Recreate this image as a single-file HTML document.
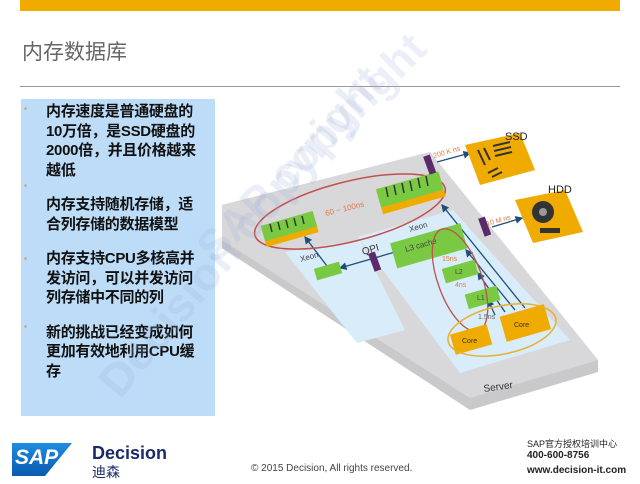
<!DOCTYPE html>
<html><head><meta charset="utf-8"><style>
body{margin:0;width:640px;height:484px;background:#fff;overflow:hidden;position:relative;font-family:"Liberation Sans","Noto Sans CJK SC",sans-serif}
.a{position:absolute}
</style></head><body>
<div class="a" style="left:20px;top:0;width:600px;height:11px;background:#f0ab00"></div>
<div class="a" style="left:22px;top:36px;font-size:21px;color:#666">内存数据库</div>
<div class="a" style="left:20px;top:86px;width:600px;height:1px;background:#999"></div>
<div class="a" style="left:21px;top:99px;width:194px;height:317px;background:#bcdcf8"></div>
<div class="a" style="left:46px;top:102px;font-size:15px;font-weight:bold;line-height:19.5px;color:#111;width:175px;white-space:nowrap;letter-spacing:-0.3px">
<div>内存速度是普通硬盘的<br>10万倍，是SSD硬盘的<br>2000倍，并且价格越来<br>越低</div>
<div style="margin-top:15px">内存支持随机存储，适<br>合列存储的数据模型</div>
<div style="margin-top:15px">内存支持CPU多核高并<br>发访问，可以并发访问<br>列存储中不同的列</div>
<div style="margin-top:15px">新的挑战已经变成如何<br>更加有效地利用CPU缓<br>存</div>
</div>
<div class="a" style="left:24px;top:104px;font-size:8px;color:#c8a040;line-height:10px">▪</div>
<div class="a" style="left:24px;top:181px;font-size:8px;color:#c8a040">▪</div>
<div class="a" style="left:24px;top:254px;font-size:8px;color:#c8a040">▪</div>
<div class="a" style="left:24px;top:322px;font-size:8px;color:#c8a040">▪</div>

<svg class="a" style="left:0;top:0" width="640" height="484" font-family="Liberation Sans,sans-serif">
<defs><marker id="m" markerWidth="6" markerHeight="6" refX="5" refY="3" orient="auto"><path d="M0,0L6,3L0,6z" fill="#1f4e79"/></marker></defs>
<polygon points="222,205 430,152 598,360 598,372 470,410 222,248" fill="#c9c9cb"/>
<polygon points="222,205 430,152 598,360 470,398 222,240" fill="#d8d8da"/>
<polygon points="285,252 360,240 405,330 357,343" fill="#d8ecfa"/>
<polygon points="358,237 453,210 570,340 460,373" fill="#d8ecfa"/>
<g stroke="#1f4e79" stroke-width="1.3" fill="none" marker-end="url(#m)">
<line x1="437" y1="162" x2="470" y2="153"/>
<line x1="492" y1="227" x2="522" y2="218"/>
<line x1="525" y1="308" x2="442" y2="205"/>
<line x1="515" y1="310" x2="466" y2="250"/>
<line x1="505" y1="312" x2="478" y2="273"/>
<line x1="495" y1="315" x2="488" y2="300"/>
<line x1="395" y1="252" x2="340" y2="268"/>
<line x1="330" y1="270" x2="305" y2="237"/>
</g>
<g transform="rotate(-14 348 212)"><ellipse cx="350" cy="212" rx="98" ry="30" fill="none" stroke="#c0504d" stroke-width="1.5"/></g>
<g transform="rotate(-16 290 230)"><rect x="263" y="220" width="54" height="20" fill="#f0ab00"/><rect x="263" y="218" width="54" height="16" fill="#7ac943"/></g>
<g transform="rotate(-16 410 192)"><rect x="378" y="182" width="65" height="24" fill="#f0ab00"/><rect x="378" y="180" width="65" height="19" fill="#7ac943"/></g>
<g stroke="#333" stroke-width="1.5"><line x1="272" y1="232" x2="270" y2="224"/><line x1="280" y1="230" x2="278" y2="222"/><line x1="288" y1="228" x2="286" y2="220"/><line x1="296" y1="226" x2="294" y2="218"/><line x1="304" y1="224" x2="302" y2="216"/>
<line x1="388" y1="197" x2="386" y2="187"/><line x1="396" y1="195" x2="394" y2="185"/><line x1="404" y1="193" x2="402" y2="183"/><line x1="412" y1="191" x2="410" y2="181"/><line x1="420" y1="188" x2="418" y2="178"/><line x1="428" y1="186" x2="426" y2="176"/></g>
<text x="326" y="216" font-size="8" fill="#e07a40" transform="rotate(-14 326 216)">60 ~ 100ns</text>
<g transform="rotate(-16 428 245)"><rect x="392" y="233" width="73" height="26" fill="#7ac943"/></g>
<text x="406" y="252" font-size="8" fill="#444" transform="rotate(-16 406 252)">L3 cache</text>
<text x="410" y="232" font-size="8" fill="#444" transform="rotate(-16 410 232)">Xeon</text>
<text x="301" y="262" font-size="8" fill="#444" transform="rotate(-16 301 262)">Xeon</text>
<text x="363" y="255" font-size="10" fill="#333" transform="rotate(-16 363 255)">QPI</text>
<g transform="rotate(-16 328 271)"><rect x="315" y="265" width="26" height="12" fill="#7ac943"/></g>
<g transform="rotate(-16 460 271)"><rect x="443" y="264" width="34" height="15" fill="#7ac943"/></g>
<g transform="rotate(-16 482 297)"><rect x="466" y="290" width="33" height="15" fill="#7ac943"/></g>
<text x="455" y="274" font-size="7" fill="#444">L2</text><text x="477" y="300" font-size="7" fill="#444">L1</text>
<g transform="rotate(-20 460 280)"><ellipse cx="460" cy="280" rx="22" ry="54" fill="none" stroke="#c0504d" stroke-width="1.3"/></g>
<text x="442" y="261" font-size="7" fill="#e07a40">15ns</text><text x="455" y="287" font-size="7" fill="#e07a40">4ns</text><text x="478" y="319" font-size="7" fill="#666">1.5ns</text>
<g transform="rotate(-16 525 322)"><rect x="502" y="310" width="46" height="26" fill="#f0ab00"/></g>
<g transform="rotate(-16 471 339)"><rect x="452" y="329" width="38" height="21" fill="#f0ab00"/></g>
<text x="514" y="327" font-size="7" fill="#333">Core</text><text x="462" y="343" font-size="7" fill="#333">Core</text>
<g transform="rotate(-12 502 330)"><ellipse cx="502" cy="330" rx="55" ry="24" fill="none" stroke="#e8b030" stroke-width="1.5"/></g>
<g fill="#5a2a6a"><rect x="426" y="155" width="7" height="19" transform="rotate(-20 430 164)"/><rect x="481" y="217" width="7" height="19" transform="rotate(-20 485 226)"/><rect x="371" y="252" width="7" height="19" transform="rotate(-20 375 261)"/></g>
<text x="434" y="158" font-size="7" fill="#e07a40" transform="rotate(-16 434 158)">200 K ns</text>
<text x="487" y="226" font-size="7" fill="#e07a40" transform="rotate(-16 487 226)">10 M ns</text>
<polygon points="465,145 520,133 535,170 480,185" fill="#f0ab00"/>
<g stroke="#333" stroke-width="2"><line x1="478" y1="150" x2="485" y2="165"/><line x1="484" y1="148" x2="490" y2="160"/><line x1="493" y1="146" x2="510" y2="142"/><line x1="494" y1="151" x2="511" y2="147"/><line x1="495" y1="156" x2="512" y2="152"/><line x1="488" y1="173" x2="498" y2="168"/><line x1="492" y1="177" x2="502" y2="172"/></g>
<text x="505" y="140" font-size="11" fill="#222">SSD</text>
<polygon points="515,200 565,190 583,232 533,243" fill="#f0ab00"/>
<circle cx="543" cy="212" r="11" fill="#333"/><circle cx="543" cy="212" r="4" fill="#999"/>
<rect x="540" y="228" width="20" height="5" fill="#333"/>
<text x="548" y="193" font-size="11" fill="#222">HDD</text>
<text x="484" y="392" font-size="10" fill="#333" transform="rotate(-8 484 392)">Server</text>
<text x="120" y="400" font-size="46" font-weight="bold" fill="#9fb0d8" fill-opacity="0.22" transform="rotate(-50 120 400)">Decision copyright</text>
<text x="215" y="265" font-size="44" font-weight="bold" fill="#9fb0d8" fill-opacity="0.2" transform="rotate(-45 215 265)">SAP copyright</text>
</svg>

<div class="a" style="left:12px;top:443px;width:60px;height:33px;background:linear-gradient(#1f8de0,#0a5ab0);clip-path:polygon(0 0,100% 0,55% 100%,0 100%)"></div>
<div class="a" style="left:15px;top:446px;color:#fff;font-weight:bold;font-size:21px;font-style:italic">SAP</div>
<div class="a" style="left:92px;top:443px;color:#1a2a6a;font-weight:bold;font-size:18px">Decision</div>
<div class="a" style="left:92px;top:462px;color:#1a2a6a;font-size:14px">迪森</div>
<div class="a" style="left:251px;top:463px;color:#444;font-size:10px">© 2015 Decision, All rights reserved.</div>
<div class="a" style="left:527px;top:437px;color:#222;font-size:9px">SAP官方授权培训中心</div>
<div class="a" style="left:527px;top:450px;color:#222;font-size:10px;font-weight:bold">400-600-8756</div>
<div class="a" style="left:527px;top:465px;color:#222;font-size:10px;font-weight:bold">www.decision-it.com</div>
</body></html>
